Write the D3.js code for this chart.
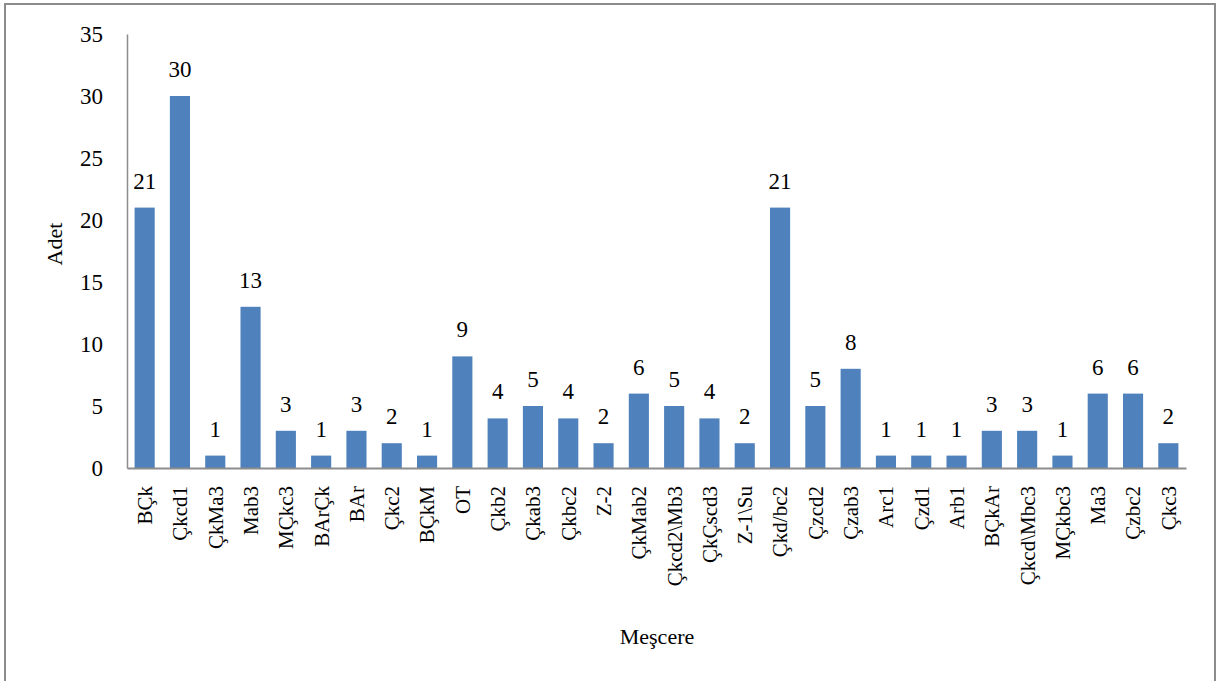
<!DOCTYPE html>
<html><head><meta charset="utf-8">
<script src="https://cdn.jsdelivr.net/npm/d3@7"></script>
<style>
body{margin:0;background:#fff;}
svg{display:block;font-family:"Liberation Serif","Times New Roman",serif;}
</style></head>
<body><svg id="c" width="1219" height="681"></svg>
<script>
const categories = ["BÇk","Çkcd1","ÇkMa3","Mab3","MÇkc3","BArÇk","BAr","Çkc2","BÇkM","OT","Çkb2","Çkab3","Çkbc2","Z-2","ÇkMab2","Çkcd2\\Mb3","ÇkÇscd3","Z-1\\Su","Çkd/bc2","Çzcd2","Çzab3","Arc1","Çzd1","Arb1","BÇkAr","Çkcd\\Mbc3","MÇkbc3","Ma3","Çzbc2","Çkc3"];
const values = [21,30,1,13,3,1,3,2,1,9,4,5,4,2,6,5,4,2,21,5,8,1,1,1,3,3,1,6,6,2];
const yTicks = [0,5,10,15,20,25,30,35];

const svg = d3.select("#c");
svg.append("rect").attr("x",5).attr("y",4).attr("width",1210).attr("height",690)
  .attr("fill","#fff").attr("stroke","#8c8c8c").attr("stroke-width",2);

const pL=127,pR=1186,pT=34,pB=468;
const x = d3.scaleBand().domain(categories).range([pL,pR]).paddingInner(0.43).paddingOuter(0.215);
const y = d3.scaleLinear().domain([0,35]).range([pB,pT]);

// y axis
const ya = svg.append("g").attr("transform",`translate(${pL},0)`)
  .call(d3.axisLeft(y).tickValues(yTicks).tickSize(0).tickPadding(24));
ya.select(".domain").attr("stroke","#8c8c8c").attr("stroke-width",1.5);
ya.selectAll("text").attr("font-size",23).attr("fill","#000").attr("font-family","Liberation Serif");

// bars
svg.append("g").selectAll("rect").data(values).join("rect")
  .attr("x",(d,i)=>x(categories[i])).attr("width",x.bandwidth())
  .attr("y",d=>y(d)).attr("height",d=>pB-y(d)).attr("fill","#4F81BD");

// value labels
svg.append("g").selectAll("text").data(values).join("text")
  .attr("x",(d,i)=>x(categories[i])+x.bandwidth()/2).attr("y",d=>y(d)-19)
  .attr("text-anchor","middle").attr("font-size",23).attr("fill","#000").text(d=>d);

// x axis
const xa = svg.append("g").attr("transform",`translate(0,${pB})`)
  .call(d3.axisBottom(x).tickSize(0).tickPadding(0));
xa.select(".domain").attr("stroke","#8c8c8c").attr("stroke-width",2);
xa.selectAll("text").attr("font-size",21).attr("fill","#000").attr("font-family","Liberation Serif")
  .attr("transform","rotate(-90)").attr("text-anchor","end").attr("dy","0.35em").attr("x",-18).attr("y",0);

// axis titles
svg.append("text").attr("x",657).attr("y",644).attr("text-anchor","middle").attr("font-size",22).text("Meşcere");
svg.append("text").attr("transform","translate(62,244) rotate(-90)").attr("text-anchor","middle").attr("font-size",22).text("Adet");
</script></body></html>
